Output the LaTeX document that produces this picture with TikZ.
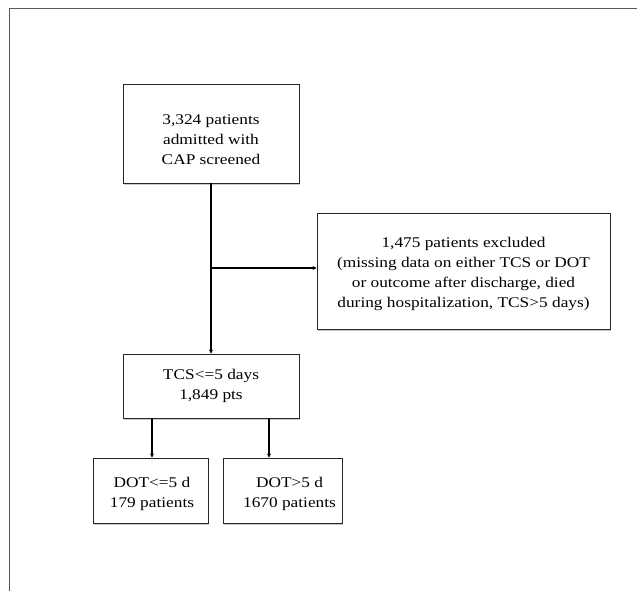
\documentclass[tikz,border=0pt]{standalone}
\usepackage{fontspec}
\setmainfont{Liberation Serif}
\newfontfamily\boxfont[FakeStretch=1.17]{Liberation Serif}
\usetikzlibrary{arrows.meta,shadows}
\begin{document}
\begin{tikzpicture}[x=1pt,y=-1pt,
  box/.style={draw=black!85,line width=0.9pt,fill=white,inner sep=0pt,
    drop shadow={shadow xshift=1.2pt,shadow yshift=-1.6pt,fill=black!35,opacity=0.6}},
  txt/.style={align=center,inner sep=0pt,font=\boxfont\fontsize{14.8}{20}\selectfont},
  conn/.style={draw=black,line width=1.3pt,-{Stealth[length=4pt,width=4pt]}},
  frameline/.style={draw=black!65,line width=1.4pt}]
\useasboundingbox (0,0) rectangle (637,591);
\draw[frameline] (9.5,591) -- (9.5,8.5) -- (637,8.5);
\node[box,minimum width=176pt,minimum height=99pt,
  label={[txt,yshift=-6pt]center:3,324 patients\\admitted with\\CAP screened}] (scr) at (211,133.5) {};
\node[box,minimum width=293pt,minimum height=116pt,
  label={[txt,yshift=-2.5pt]center:1,475 patients excluded\\(missing data on either TCS or DOT\\or outcome after discharge, died\\during hospitalization, TCS>5 days)}] (exc) at (463.5,271) {};
\node[box,minimum width=176pt,minimum height=64pt,
  label={[txt]center:TCS<=5 days\\1,849 pts}] (tcs) at (211,386) {};
\node[box,minimum width=115pt,minimum height=65pt,
  label={[txt,yshift=-3.5pt,xshift=1.5pt]center:DOT<=5 d\\179 patients}] (dl) at (150.5,490.5) {};
\node[box,minimum width=119pt,minimum height=65pt,
  label={[txt,yshift=-3.5pt,xshift=7pt]center:DOT>5 d\\1670 patients}] (dg) at (282.5,490.5) {};
\coordinate (j) at (211,268);
\draw[conn] (scr.south) -- (tcs.north);
\draw[conn] (j) -- (j -| exc.west);
\draw[conn] ([xshift=-59pt]tcs.south) -- ([xshift=-59pt]tcs.south |- dl.north);
\draw[conn] ([xshift=58pt]tcs.south) -- ([xshift=58pt]tcs.south |- dg.north);
\end{tikzpicture}
\end{document}
